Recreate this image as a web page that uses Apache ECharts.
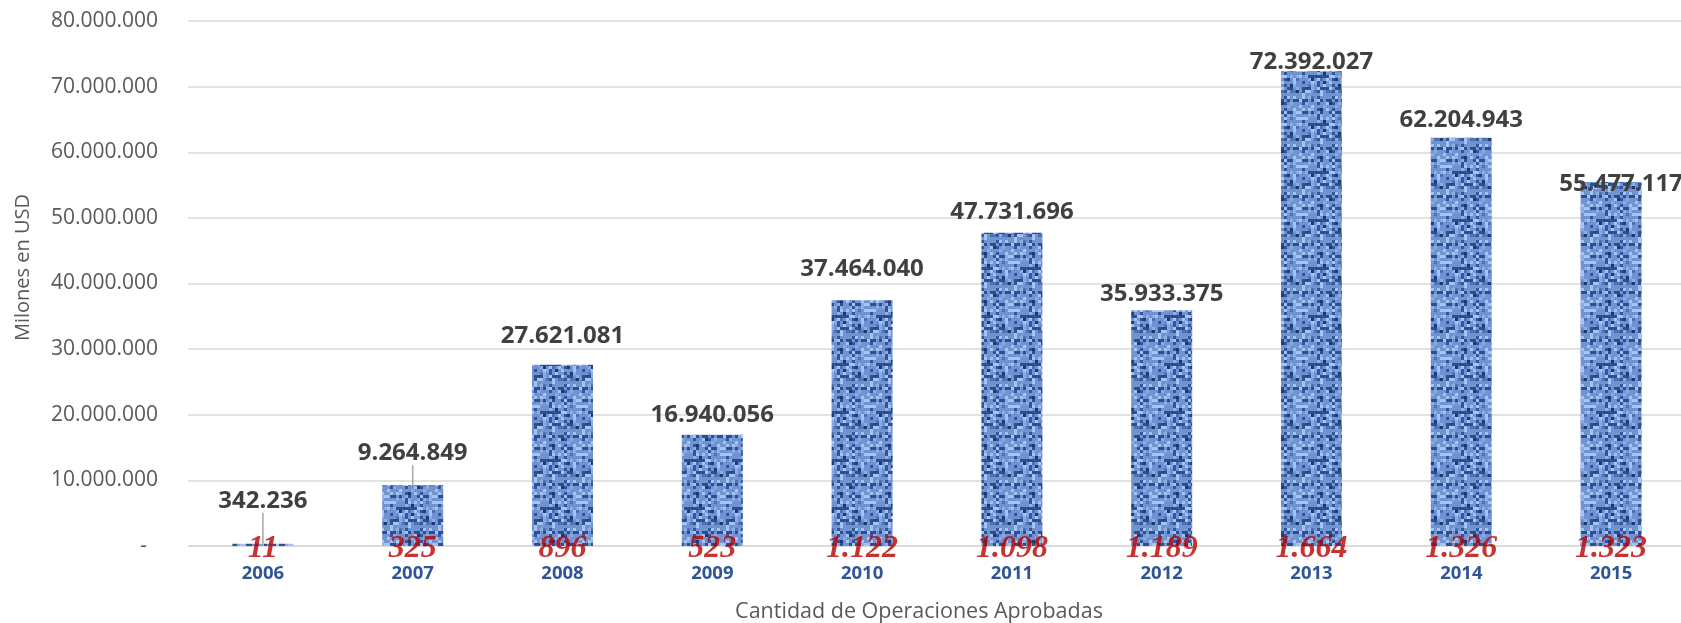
<!DOCTYPE html>
<html>
<head>
<meta charset="utf-8">
<script src="https://cdn.jsdelivr.net/npm/echarts@6/dist/echarts.min.js"></script>
<style>
html,body{margin:0;padding:0;background:#fff;}
#chart{width:1681px;height:623px;}
</style>
</head>
<body>
<div id="chart"></div>
<script>
const years = ['2006','2007','2008','2009','2010','2011','2012','2013','2014','2015'];
const amounts = [342236, 9264849, 27621081, 16940056, 37464040, 47731696, 35933375, 72392027, 62204943, 55477117];
const operations = [11, 325, 896, 523, 1122, 1098, 1189, 1664, 1326, 1323];
const yTicks = {min: 0, max: 80000000, interval: 10000000};

// label nudges (layout only), mimic the manually placed labels of the original
const labelDy = [-26, -15, -12, -3, -14, -4, 1, 8, -1, 19];
const labelDx = [0, 0, 0, 0, 0, 0, 0, 0, 0, 10];

function fmt(v){ return String(v).replace(/\B(?=(\d{3})+(?!\d))/g, '.'); }

// denim-like texture (deterministic)
function makePattern(){
  const c = document.createElement('canvas');
  const N = 16, P = 3, S = N * P;
  c.width = S; c.height = S;
  const ctx = c.getContext('2d');
  ctx.fillStyle = '#7094d2';
  ctx.fillRect(0,0,S,S);
  for (let y=0;y<N;y++){
    for (let x=0;x<N;x++){
      const h = ((x*73 + y*151 + ((x*y)%11)*37 + ((x+3*y)%7)*19) % 17);
      let col = null;
      if (y % 4 === 1 && h < 9) col = '#2d4f92';
      else if (x % 5 === 2 && h < 8) col = '#33569a';
      else if (h === 3 || h === 9 || h === 14) col = '#a7c3ef';
      else if (h === 6) col = '#1d3a78';
      else if (h === 11 || h === 16) col = '#8cade4';
      else if (h === 1) col = '#4f72b4';
      if (col){ ctx.fillStyle = col; ctx.fillRect(x*P, y*P, P, P); }
    }
  }
  return c;
}
const pattern = makePattern();

const chart = echarts.init(document.getElementById('chart'));
chart.setOption({
  animation: false,
  backgroundColor: '#ffffff',
  grid: {left: 188, top: 21, width: 1498, bottom: 77, containLabel: false, outerBoundsMode: 'none'},
  xAxis: {
    type: 'category',
    data: years,
    axisLine: {show: true, lineStyle: {color: '#d9d9d9', width: 1.5}},
    axisTick: {show: false},
    axisLabel: {color: '#2F5597', fontWeight: 'bold', fontSize: 18.5, fontFamily: 'Open Sans', margin: 18},
    name: 'Cantidad de Operaciones Aprobadas',
    nameLocation: 'middle',
    nameGap: 55,
    nameTextStyle: {color: '#595959', fontSize: 21.5, fontFamily: 'Open Sans', padding: [0, 36, 0, 0]}
  },
  yAxis: {
    type: 'value',
    min: yTicks.min, max: yTicks.max, interval: yTicks.interval,
    axisLine: {show: false},
    axisTick: {show: false},
    splitLine: {lineStyle: {color: '#d9d9d9', width: 1.5}},
    axisLabel: {
      color: '#595959', fontSize: 21, fontFamily: 'Open Sans', margin: 30,
      formatter: v => v === 0 ? '-  ' : fmt(v)
    },
    name: 'Milones en USD',
    nameLocation: 'middle',
    nameGap: 155,
    nameTextStyle: {color: '#595959', fontSize: 20, fontFamily: 'Open Sans', padding: [0, 0, 0, 32]}
  },
  series: [
    {
      type: 'bar',
      data: amounts.map((v, i) => ({
        value: v,
        labelLine: {show: i < 2}
      })),
      barWidth: 61,
      itemStyle: {color: {image: pattern, repeat: 'repeat'}},
      label: {
        show: true, position: 'top', distance: 5,
        color: '#404040', fontWeight: 'bold', fontSize: 24, fontFamily: 'Open Sans',
        formatter: p => fmt(p.value)
      },
      labelLine: {show: false, lineStyle: {color: '#a6a6a6', width: 1.5}},
      labelLayout: p => ({dy: labelDy[p.dataIndex], dx: labelDx[p.dataIndex]}),
      z: 2
    },
    {
      type: 'scatter',
      data: operations.map(() => 0),
      symbolSize: 1,
      itemStyle: {color: 'rgba(0,0,0,0)'},
      label: {
        show: true, position: 'inside', offset: [0, 3],
        color: '#B80000', fontStyle: 'italic', fontWeight: 'bold', fontSize: 32,
        fontFamily: 'Liberation Serif',
        formatter: p => fmt(operations[p.dataIndex])
      },
      z: 5,
      silent: true
    }
  ]
});
</script>
</body>
</html>
